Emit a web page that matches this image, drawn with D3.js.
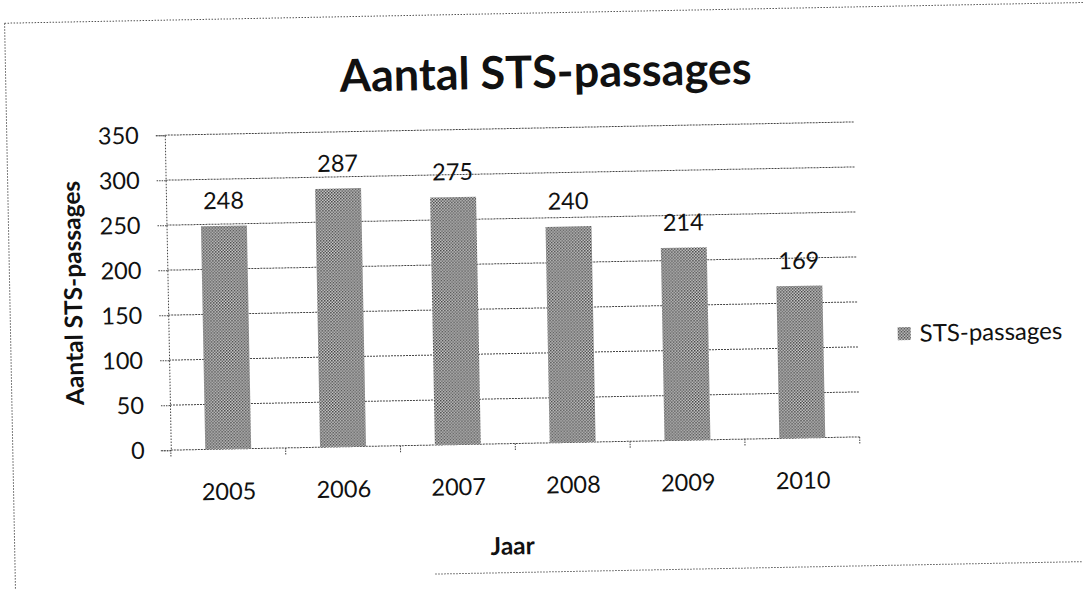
<!DOCTYPE html>
<html>
<head>
<meta charset="utf-8">
<script src="https://cdn.jsdelivr.net/npm/d3@7"></script>
<style>
  body { margin: 0; background: #fff; }
  text { font-family: Lato, "Open Sans", sans-serif; fill: #111; }
</style>
</head>
<body>
<svg width="1083" height="590"></svg>
<script>
// chart data
const years = ['2005', '2006', '2007', '2008', '2009', '2010'];
const passages = [248, 287, 275, 240, 214, 169];
const yTicks = [0, 50, 100, 150, 200, 250, 300, 350];
const seriesName = 'STS-passages';

const svg = d3.select('svg');
const margin = { top: 128, left: 168, right: 226, bottom: 147 };
const width = 1083 - margin.left - margin.right;
const height = 590 - margin.top - margin.bottom;

// dithered grey like the scanned print
const defs = svg.append('defs');
const pat = defs.append('pattern')
  .attr('id', 'dots')
  .attr('width', 3).attr('height', 3)
  .attr('patternUnits', 'userSpaceOnUse');
pat.append('rect').attr('width', 3).attr('height', 3).attr('fill', '#d2d2d2');
pat.append('rect').attr('width', 1.5).attr('height', 1.5).attr('fill', '#3c3c3c');
pat.append('rect').attr('x', 1.5).attr('y', 1.5).attr('width', 1.5).attr('height', 1.5).attr('fill', '#555');

// the scan is tilted a little
const page = svg.append('g').attr('transform', 'rotate(-1.1 540 300)');

// chart frame: the bottom-left part is lost in the scan
const frame = [
  [10, 13, 1110, 13],
  [10, 13, 10, 610],
  [430, 572, 1110, 572],
];
page.append('g')
  .selectAll('line')
  .data(frame)
  .join('line')
  .attr('x1', d => d[0]).attr('y1', d => d[1])
  .attr('x2', d => d[2]).attr('y2', d => d[3])
  .attr('stroke', '#555')
  .attr('stroke-dasharray', '1.5,1.5');

const g = page.append('g').attr('transform', `translate(${margin.left},${margin.top})`);

const x = d3.scaleBand().domain(years).range([0, width]).paddingInner(0.6).paddingOuter(0.3);
const y = d3.scaleLinear().domain([0, 350]).range([height, 0]);

// gridlines
g.append('g')
  .selectAll('line')
  .data(yTicks)
  .join('line')
  .attr('x1', 0).attr('x2', width)
  .attr('y1', d => y(d)).attr('y2', d => y(d))
  .attr('stroke', '#444')
  .attr('stroke-dasharray', '2,1');

const yAxis = g.append('g')
  .call(d3.axisLeft(y).tickValues(yTicks).tickSize(10).tickPadding(16));
yAxis.select('.domain').attr('stroke', '#444').attr('stroke-dasharray', '1.5,1.5');
yAxis.selectAll('.tick line').attr('stroke', '#444').attr('stroke-dasharray', '1.5,1');
yAxis.selectAll('text').style('font-size', '23.5px');

const xAxis = g.append('g')
  .attr('transform', `translate(0,${height})`)
  .call(d3.axisBottom(x).tickSize(0).tickPadding(34));
xAxis.select('.domain').remove();
xAxis.selectAll('text').style('font-size', '23.5px');

// category separators on the axis
g.append('g')
  .selectAll('line')
  .data(d3.range(years.length + 1))
  .join('line')
  .attr('x1', d => d * width / years.length)
  .attr('x2', d => d * width / years.length)
  .attr('y1', height).attr('y2', height + 7)
  .attr('stroke', '#444')
  .attr('stroke-dasharray', '1.5,1');

g.selectAll('.bar')
  .data(passages)
  .join('rect')
  .attr('class', 'bar')
  .attr('x', (d, i) => x(years[i]))
  .attr('y', d => y(d))
  .attr('width', x.bandwidth())
  .attr('height', d => height - y(d))
  .attr('fill', 'url(#dots)');

g.selectAll('.lbl')
  .data(passages)
  .join('text')
  .attr('class', 'lbl')
  .attr('x', (d, i) => x(years[i]) + x.bandwidth() / 2)
  .attr('y', d => y(d) - 17)
  .attr('text-anchor', 'middle')
  .style('font-size', '23.5px')
  .text(d => d);

// titles
page.append('text')
  .attr('x', 550).attr('y', 88)
  .attr('text-anchor', 'middle')
  .style('font-size', '45px').style('font-weight', 'bold')
  .text('Aantal STS-passages');

page.append('text')
  .attr('transform', 'translate(82,284) rotate(-90)')
  .attr('text-anchor', 'middle')
  .style('font-size', '24.5px').style('font-weight', 'bold')
  .text('Aantal STS-passages');

page.append('text')
  .attr('x', 508).attr('y', 554)
  .attr('text-anchor', 'middle')
  .style('font-size', '24.5px').style('font-weight', 'bold')
  .text('Jaar');

// legend
const leg = page.append('g').attr('transform', 'translate(897,341)');
leg.append('rect').attr('width', 13).attr('height', 13).attr('y', -7).attr('fill', 'url(#dots)');
leg.append('text').attr('x', 22).attr('y', 8).style('font-size', '24px').text(seriesName);
</script>
</body>
</html>
